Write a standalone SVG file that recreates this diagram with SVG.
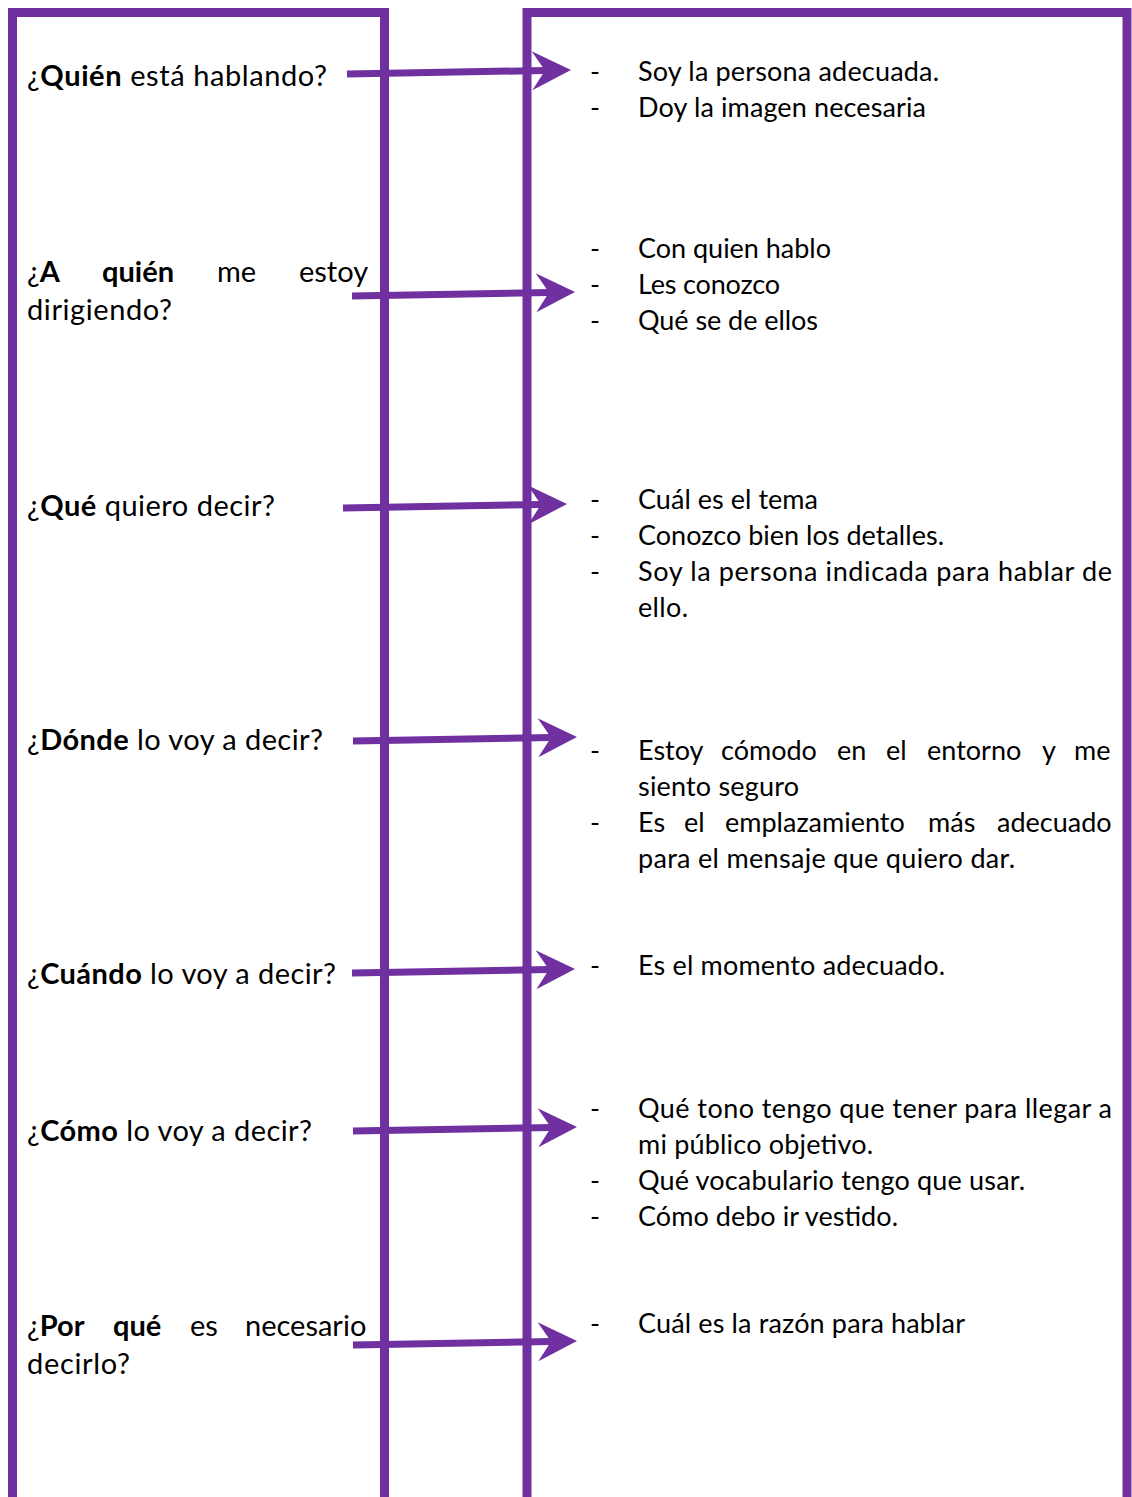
<svg xmlns="http://www.w3.org/2000/svg" width="1132" height="1497" viewBox="0 0 1132 1497">
<style>
.box{fill:none;stroke:#7030A0;stroke-width:9}
.conn{stroke:#7030A0;stroke-width:7;fill:none;marker-end:url(#head)}
text{font-family:Lato,"Open Sans","DejaVu Sans",sans-serif;font-size:27px;fill:#000}
.q{font-size:29px}
.b{font-weight:bold}
</style>
<defs>
<marker id="head" viewBox="-40 -21 42 42" refX="-26" refY="0" markerWidth="42" markerHeight="42" markerUnits="userSpaceOnUse" orient="auto">
<path d="M0,0 L-39,-19.5 L-26,0 L-39,19.5 Z" fill="#7030A0"/>
</marker>
</defs>
<rect width="1132" height="1497" fill="#fff"/>
<g id="left-column">
<path class="box" d="M12.5,1510 V12.5 H384.5 V1510"/>
<text class="q" x="27" y="86" textLength="300" lengthAdjust="spacing">¿<tspan class="b">Quién</tspan> está hablando?</text>
<text class="q" y="282"><tspan x="27">¿</tspan><tspan class="b">A</tspan><tspan x="102" class="b">quién</tspan><tspan x="217">me</tspan><tspan x="299">estoy</tspan></text>
<text class="q" x="27" y="320" textLength="145" lengthAdjust="spacing">dirigiendo?</text>
<text class="q" x="27" y="516" textLength="248" lengthAdjust="spacing">¿<tspan class="b">Qué</tspan> quiero decir?</text>
<text class="q" x="27" y="750" textLength="296" lengthAdjust="spacing">¿<tspan class="b">Dónde</tspan> lo voy a decir?</text>
<text class="q" x="27" y="984" textLength="309" lengthAdjust="spacing">¿<tspan class="b">Cuándo</tspan> lo voy a decir?</text>
<text class="q" x="27" y="1141" textLength="285" lengthAdjust="spacing">¿<tspan class="b">Cómo</tspan> lo voy a decir?</text>
<text class="q" y="1336"><tspan x="27">¿</tspan><tspan class="b">Por</tspan><tspan x="113" class="b">qué</tspan><tspan x="190">es</tspan><tspan x="245">necesario</tspan></text>
<text class="q" x="27" y="1374" textLength="103" lengthAdjust="spacing">decirlo?</text>
</g>
<g id="right-column">
<path class="box" d="M527,1510 V12.5 H1127 V1510"/>
<g id="r1">
<text x="590" y="81">-</text><text x="638" y="81" textLength="301" lengthAdjust="spacing">Soy la persona adecuada.</text>
<text x="590" y="117">-</text><text x="638" y="117" textLength="288" lengthAdjust="spacing">Doy la imagen necesaria</text>
</g>
<g id="r2">
<text x="590" y="258">-</text><text x="638" y="258" textLength="193" lengthAdjust="spacing">Con quien hablo</text>
<text x="590" y="294">-</text><text x="638" y="294" textLength="142" lengthAdjust="spacing">Les conozco</text>
<text x="590" y="330">-</text><text x="638" y="330" textLength="180" lengthAdjust="spacing">Qué se de ellos</text>
</g>
<g id="r3">
<text x="590" y="509">-</text><text x="638" y="509" textLength="180" lengthAdjust="spacing">Cuál es el tema</text>
<text x="590" y="545">-</text><text x="638" y="545" textLength="306" lengthAdjust="spacing">Conozco bien los detalles.</text>
<text x="590" y="581">-</text><text x="638" y="581" textLength="474" lengthAdjust="spacing">Soy la persona indicada para hablar de</text>
<text x="638" y="617" textLength="50" lengthAdjust="spacing">ello.</text>
</g>
<g id="r4">
<text x="590" y="760">-</text><text y="760"><tspan x="638">Estoy</tspan><tspan x="721">cómodo</tspan><tspan x="837">en</tspan><tspan x="886">el</tspan><tspan x="927">entorno</tspan><tspan x="1042">y</tspan><tspan x="1074">me</tspan></text>
<text x="638" y="796" textLength="161" lengthAdjust="spacing">siento seguro</text>
<text x="590" y="832">-</text><text y="832"><tspan x="638">Es</tspan><tspan x="684">el</tspan><tspan x="725">emplazamiento</tspan><tspan x="928">más</tspan><tspan x="997">adecuado</tspan></text>
<text x="638" y="868" textLength="377" lengthAdjust="spacing">para el mensaje que quiero dar.</text>
</g>
<g id="r5">
<text x="590" y="975">-</text><text x="638" y="975" textLength="307" lengthAdjust="spacing">Es el momento adecuado.</text>
</g>
<g id="r6">
<text x="590" y="1118">-</text><text x="638" y="1118" textLength="474" lengthAdjust="spacing">Qué tono tengo que tener para llegar a</text>
<text x="638" y="1154" textLength="235" lengthAdjust="spacing">mi público objetivo.</text>
<text x="590" y="1190">-</text><text x="638" y="1190" textLength="387" lengthAdjust="spacing">Qué vocabulario tengo que usar.</text>
<text x="590" y="1226">-</text><text x="638" y="1226" textLength="260" lengthAdjust="spacing">Cómo debo ir vestido.</text>
</g>
<g id="r7">
<text x="590" y="1333">-</text><text x="638" y="1333" textLength="327" lengthAdjust="spacing">Cuál es la razón para hablar</text>
</g>
</g>
<g id="connectors">
<path class="conn" d="M347,74 L545,70.5"/>
<path class="conn" d="M352,296 L549,292.5"/>
<path class="conn" d="M343,508 L541,504.5"/>
<path class="conn" d="M353,741 L551,737.5"/>
<path class="conn" d="M352,973 L549,969.5"/>
<path class="conn" d="M353,1131 L551,1127.5"/>
<path class="conn" d="M353,1345 L551,1341.5"/>
</g>
</svg>
